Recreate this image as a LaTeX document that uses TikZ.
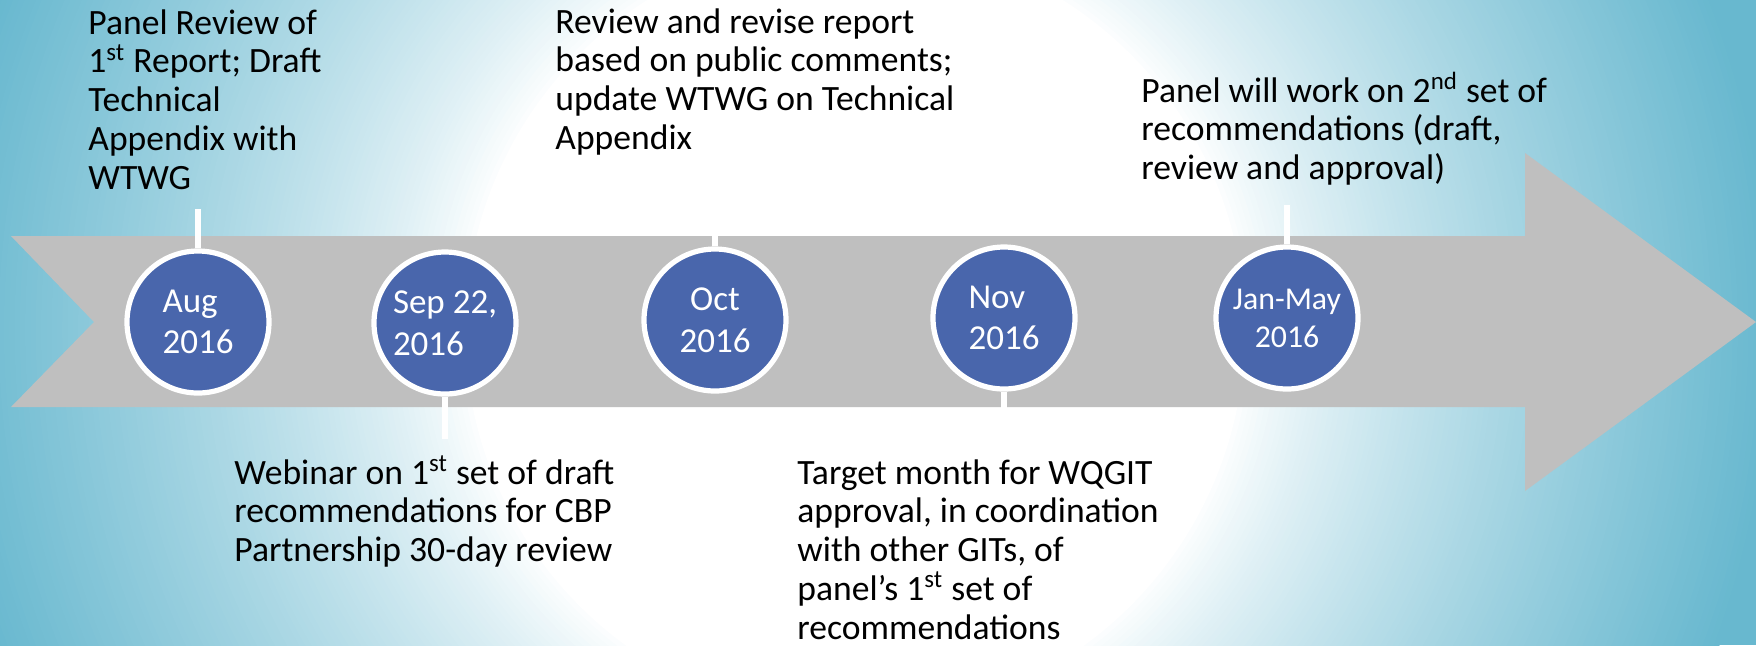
\documentclass[tikz,border=0pt]{standalone}
\usepackage{fontspec}
\setmainfont{Carlito}

\definecolor{bgteal}{RGB}{104,184,207}
\definecolor{bandgrey}{RGB}{191,191,191}
\definecolor{dotblue}{RGB}{73,102,172}

% left-aligned lines whose baseline is the baseline of the first line
\newcommand\linestack[1]{\vtop{\baselineskip=19.4pt\lineskiplimit=-20pt\let\\\cr\halign{##\hfil\cr#1\crcr}}}

\begin{document}
\begin{tikzpicture}[x=0.5pt,y=-0.5pt,
  band/.style={fill=bandgrey},
  dot/.style={circle, draw=white, line width=2.6pt, fill=dotblue,
    minimum size=71pt, inner sep=0pt, text=white,
    font=\fontsize{17.5pt}{20.8pt}\selectfont},
  smalldot/.style={font=\fontsize{15.9pt}{19pt}\selectfont},
  stem/.style={draw=white, line width=2.7pt},
  note/.style={anchor=base west, inner sep=0pt, text=black,
    font=\fontsize{17.8pt}{19.4pt}\selectfont}]

\useasboundingbox (0,0) rectangle (1756,645);

% background: teal edges with a soft white glow in the middle
\begin{scope}
  \clip (0,0) rectangle (1756,645);
  \fill[bgteal] (0,0) rectangle (1756,645);
  \foreach \k in {0,...,99}{
    \pgfmathsetmacro\rad{920-5.3*\k}
    \pgfmathsetmacro\mix{100*(1-(1-\k/100)^0.8)}
    \fill[white!\mix!bgteal] (855,330) circle (\rad);
  }
  \fill[white] (855,330) circle (390);
\end{scope}

% timeline arrow
\fill[band] (11,236) -- (1525,236) -- (1525,153) -- (1756,322)
  -- (1525,491) -- (1525,407) -- (11,407) -- (94,322) -- cycle;

% milestones
\node[dot, align=left]   (aug) at (198,322)  {Aug\\2016};
\node[dot, align=left]   (sep) at (445,323)  {Sep 22,\\2016};
\node[dot, align=center] (oct) at (715,320)  {Oct\\2016};
\node[dot, align=left]   (nov) at (1004,318) {Nov\\2016};
\node[dot, smalldot, align=center] (jan) at (1287,318) {Jan-May\\2016};

% stems to the notes
\coordinate (augtip) at (198,209);
\coordinate (septip) at (445,439);
\coordinate (octtip) at (715,211);
\coordinate (novtip) at (1004,439);
\coordinate (jantip) at (1287,205);
\draw[stem] (aug.north) -- (aug.north |- augtip);
\draw[stem] (sep.south) -- (sep.south |- septip);
\draw[stem] (oct.north) -- (oct.north |- octtip);
\draw[stem] (nov.south) -- (nov.south |- novtip);
\draw[stem] (jan.north) -- (jan.north |- jantip);

% notes
\node[note] (augnote) at (88,34) {\linestack{Panel Review of\\1\textsuperscript{st} Report; Draft\\Technical\\Appendix with\\WTWG}};
\node[note] (octnote) at (555,33) {\linestack{Review and revise report\\based on public comments;\\update WTWG on Technical\\Appendix}};
\node[note] (jannote) at (1141,102) {\linestack{Panel will work on 2\textsuperscript{nd} set of\\recommendations (draft,\\review and approval)}};
\node[note] (sepnote) at (234,484) {\linestack{Webinar on 1\textsuperscript{st} set of draft\\recommendations for CBP\\Partnership 30-day review}};
\node[note] (novnote) at (797,484) {\linestack{Target month for WQGIT\\approval, in coordination\\with other GITs, of\\panel’s 1\textsuperscript{st} set of\\recommendations}};
\end{tikzpicture}
\end{document}
